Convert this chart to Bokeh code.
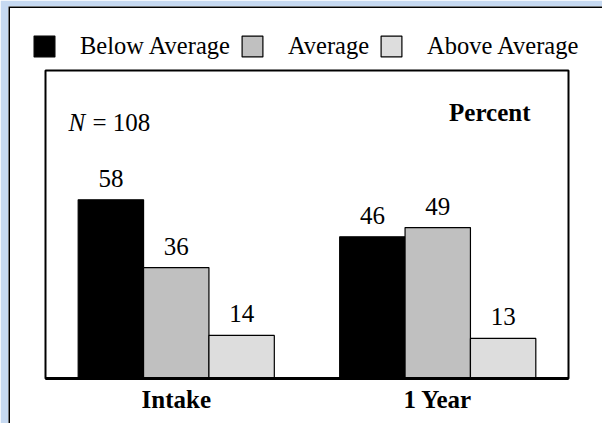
from bokeh.plotting import figure
from bokeh.models import Range1d, Legend, LegendItem, Label, LabelSet, ColumnDataSource, BoxAnnotation
from bokeh.core.properties import value
from bokeh.transform import dodge
from bokeh.embed import file_html
from bokeh.resources import INLINE

categories = ["Intake", "1 Year"]
series_names = ["Below Average", "Average", "Above Average"]
below_average = [58, 46]
average = [36, 49]
above_average = [14, 13]
series_values = [below_average, average, above_average]
series_colors = ["#000000", "#c0c0c0", "#dddddd"]
offsets = [-0.25, 0.0, 0.25]
group_index = list(range(len(categories)))

FONT = "Liberation Serif"


def set_font(obj, attr, f):
    try:
        setattr(obj, attr, value(f))
    except Exception:
        setattr(obj, attr, f)


PX_GROUP = 261.5   # pixels per category group
PX_UNIT = 3.08     # pixels per percent

x0, x1 = -0.5 - 37 / PX_GROUP, 1.5 + 34 / PX_GROUP
y0, y1 = -45 / PX_UNIT, 100 + 64 / PX_UNIT

p = figure(width=602, height=423,
           x_range=Range1d(x0, x1), y_range=Range1d(y0, y1),
           output_backend="svg", toolbar_location=None,
           x_axis_location=None, y_axis_location=None,
           min_border_left=8, min_border_right=0, min_border_top=6, min_border_bottom=0)
p.xgrid.visible = False
p.ygrid.visible = False
p.outline_line_color = None
p.background_fill_color = "white"
p.border_fill_color = "#c6d9f1"

# page frame (left and top edges only visible)
p.add_layout(BoxAnnotation(left=x0, right=x1 + 1, bottom=y0 - 20, top=y1, fill_alpha=0,
                           line_color="black", line_alpha=1, line_width=3, level="underlay"))
# chart box and baseline
p.add_layout(BoxAnnotation(left=-0.5, right=1.5, bottom=0, top=100, fill_alpha=0,
                           line_color="black", line_alpha=1, line_width=2, level="underlay"))
p.add_layout(BoxAnnotation(left=-0.5, right=1.5, bottom=0, top=0, fill_alpha=0,
                           line_color="black", line_alpha=1, line_width=3))

items = []
for name, vals, col, off in zip(series_names, series_values, series_colors, offsets):
    src = ColumnDataSource(dict(idx=group_index, val=vals, txt=[str(v) for v in vals]))
    r = p.vbar(x=dodge("idx", off), top="val", width=0.25, source=src,
               fill_color=col, line_color="black", line_width=1.2)
    items.append(LegendItem(label=name, renderers=[r]))
    lbl = LabelSet(x=dodge("idx", off), y="val", text="txt", source=src,
                   y_offset=13, text_align="center", text_baseline="alphabetic",
                   text_font_size=value("25px"), text_color="black")
    set_font(lbl, "text_font", FONT)
    p.add_layout(lbl)

cat_src = ColumnDataSource(dict(idx=group_index, zero=[0] * len(categories), txt=categories))
cat_lbl = LabelSet(x="idx", y="zero", text="txt", source=cat_src, y_offset=-29,
                   text_align="center", text_baseline="alphabetic",
                   text_font_size=value("25px"), text_font_style="bold", text_color="black")
set_font(cat_lbl, "text_font", FONT)
p.add_layout(cat_lbl)

legend = Legend(items=items, orientation="horizontal", location=(23, 363),
                glyph_width=26, glyph_height=26, label_height=26, label_standoff=23,
                spacing=9, padding=0, margin=0, border_line_color=None,
                background_fill_alpha=0, label_text_font_size="24.5px",
                label_text_color="black")
set_font(legend, "label_text_font", FONT)
p.add_layout(legend)

n1 = Label(x=60, y=301, x_units="screen", y_units="screen", text="N",
           text_font_size="25px", text_font_style="italic",
           text_baseline="alphabetic", text_color="black")
n2 = Label(x=84, y=301, x_units="screen", y_units="screen", text="= 108",
           text_font_size="25px", text_baseline="alphabetic", text_color="black")
pc = Label(x=522, y=311, x_units="screen", y_units="screen", text="Percent",
           text_font_size="25px", text_font_style="bold",
           text_align="right", text_baseline="alphabetic", text_color="black")
for lab in (n1, n2, pc):
    set_font(lab, "text_font", FONT)
    p.add_layout(lab)

open("out.html", "w").write(file_html(p, INLINE))
